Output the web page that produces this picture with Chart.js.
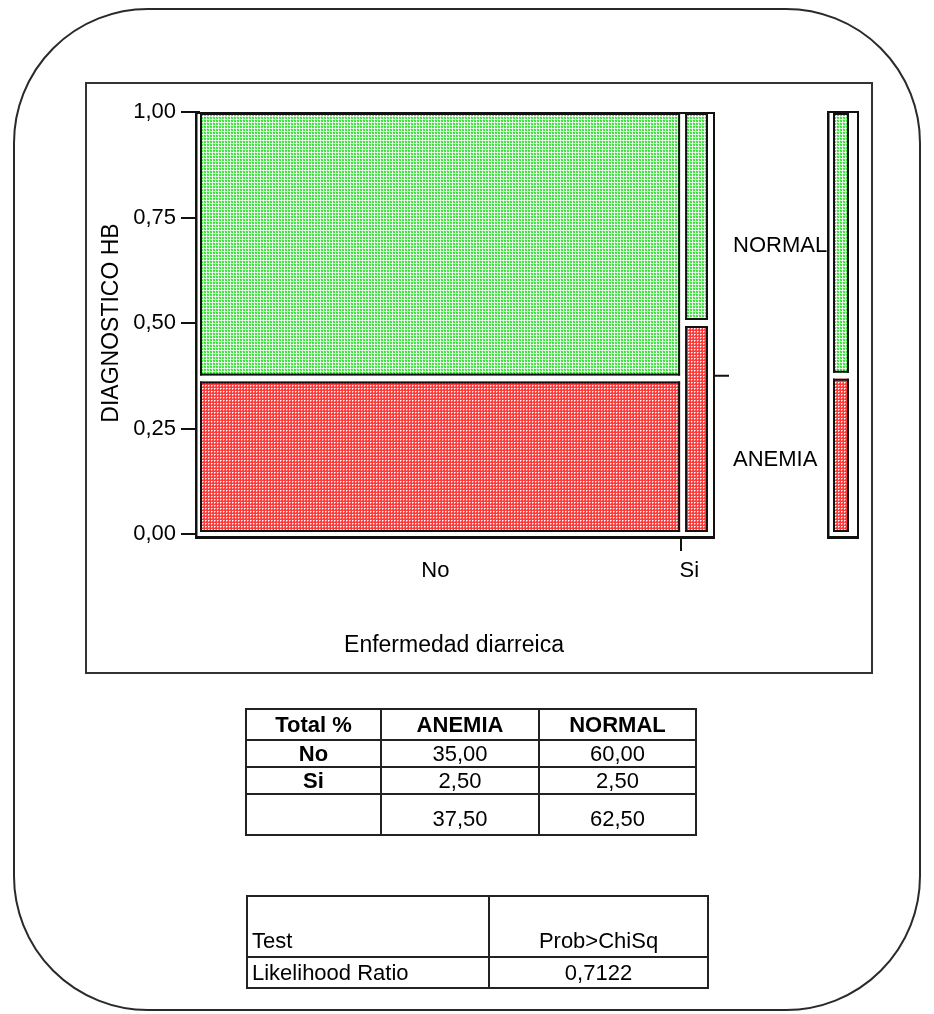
<!DOCTYPE html>
<html><head><meta charset="utf-8">
<script src="https://cdn.jsdelivr.net/npm/chart.js@4.4.0/dist/chart.umd.min.js"></script>
<style>
html,body{margin:0;padding:0;background:#fff;}
body{width:934px;height:1014px;position:relative;overflow:hidden;font-family:"Liberation Sans",Arial,sans-serif;color:#000;}
#frame{position:absolute;left:13px;top:8px;width:908px;height:1003px;box-sizing:border-box;border:2px solid #2a2a2a;border-radius:135px;}
#box{position:absolute;left:85px;top:82px;width:788px;height:592px;box-sizing:border-box;border:2px solid #333;}
#c{position:absolute;left:0;top:0;}
table{position:absolute;border-collapse:collapse;font-size:22px;table-layout:fixed;}
td{border:2px solid #222;padding:0;line-height:1;text-align:center;vertical-align:middle;}
#t1{left:245px;top:708px;width:450px;}
#t2{left:246px;top:895px;width:461px;}
.b{font-weight:bold;}
.l{text-align:left;padding-left:4px;}
.bot{vertical-align:bottom;padding-bottom:4px;}
</style></head>
<body>
<div id="frame"></div>
<div id="box"></div>
<canvas id="c" width="934" height="1014"></canvas>
<table id="t1"></table>
<table id="t2"></table>
<script>
// ---- data ----
const categories = ['No', 'Si'];
const levels = ['ANEMIA', 'NORMAL'];
const anemiaPct = [35.00, 2.50];
const normalPct = [60.00, 2.50];
const yTickValues = [0, 0.25, 0.5, 0.75, 1];
const xTitle = 'Enfermedad diarreica';
const yTitle = 'DIAGNOSTICO HB';
const tableCorner = 'Total %';
const testHeader = ['Test', 'Prob>ChiSq'];
const testRow = ['Likelihood Ratio', '0,7122'];

const fmt = v => v.toFixed(2).replace('.', ',');
const colTotals = categories.map((c, i) => anemiaPct[i] + normalPct[i]);
const grand = colTotals.reduce((a, b) => a + b, 0);
const anemiaTotal = anemiaPct.reduce((a, b) => a + b, 0);
const normalTotal = normalPct.reduce((a, b) => a + b, 0);
const colStarts = [];
{ let s = 0; colTotals.forEach(t => { colStarts.push(s / grand); s += t; }); }
const colCenters = colTotals.map((t, i) => colStarts[i] + t / grand / 2);

// ---- tables ----
(function () {
  const t1 = document.getElementById('t1');
  let h = '<colgroup><col style="width:135px"><col style="width:158px"><col style="width:157px"></colgroup>';
  h += '<tr style="height:31px"><td class="b">' + tableCorner + '</td>' + levels.map(l => '<td class="b">' + l + '</td>').join('') + '</tr>';
  categories.forEach((c, i) => {
    h += '<tr style="height:27px"><td class="b">' + c + '</td><td>' + fmt(anemiaPct[i]) + '</td><td>' + fmt(normalPct[i]) + '</td></tr>';
  });
  h += '<tr style="height:41px"><td></td><td class="bot">' + fmt(anemiaTotal) + '</td><td class="bot">' + fmt(normalTotal) + '</td></tr>';
  t1.innerHTML = h;
  const t2 = document.getElementById('t2');
  let g = '<colgroup><col style="width:242px"><col style="width:219px"></colgroup>';
  g += '<tr style="height:61px"><td class="l bot">' + testHeader[0] + '</td><td class="bot">' + testHeader[1] + '</td></tr>';
  g += '<tr style="height:31px"><td class="l">' + testRow[0] + '</td><td>' + testRow[1] + '</td></tr>';
  t2.innerHTML = g;
})();

// ---- patterns ----
function makePattern(base, cells) {
  const c = document.createElement('canvas'); c.width = c.height = 3;
  const g = c.getContext('2d');
  g.fillStyle = base; g.fillRect(0, 0, 3, 3);
  cells.forEach(([x, y, col]) => { g.fillStyle = col; g.fillRect(x, y, 1, 1); });
  return document.getElementById('c').getContext('2d').createPattern(c, 'repeat');
}
const greenPat = makePattern('#f2fdf2', [[0,0,'#30e030'],[1,0,'#5ae85a'],[0,1,'#5ae85a'],[1,1,'#30e030'],[2,0,'#c4f4c4'],[0,2,'#c4f4c4']]);
const redPat = makePattern('#ff3c3c', [[1,1,'#ffffff'],[2,1,'#ffa4a4'],[1,2,'#ffa4a4']]);

// ---- drawing helpers ----
function frameRect(ctx, l, t, r, b) {
  ctx.fillStyle = '#fff'; ctx.fillRect(l, t, r - l, b - t);
  ctx.fillStyle = '#111';
  ctx.fillRect(l, t, r - l, 2);
  ctx.fillRect(l, t, 2.5, b - t);
  ctx.fillRect(r - 2, t, 2, b - t);
  ctx.fillRect(l, b - 3, r - l, 3);
}
function tile(ctx, x0, y0, x1, y1, pat) {
  ctx.fillStyle = pat; ctx.fillRect(x0, y0, x1 - x0, y1 - y0);
  ctx.fillStyle = '#111';
  ctx.fillRect(x0, y0, x1 - x0, 2);
  ctx.fillRect(x0, y1 - 2, x1 - x0, 2);
  ctx.fillRect(x0, y0, 2, y1 - y0);
  ctx.fillRect(x1 - 2, y0, 2, y1 - y0);
}

const mosaicPlugin = {
  id: 'mosaic',
  afterDraw(chart) {
    const { ctx, chartArea: a, scales: { x, y } } = chart;
    ctx.save();
    const fl = a.left - 5, fr = a.right + 7, ft = y.getPixelForValue(1), fb = y.getPixelForValue(0) + 5;
    frameRect(ctx, fl, ft, fr, fb);
    const gap = 2.5;
    categories.forEach((c, i) => {
      const x0 = colStarts[i], x1 = colStarts[i] + colTotals[i] / grand;
      const px0 = x.getPixelForValue(x0) + (i === 0 ? 0 : gap);
      const px1 = x.getPixelForValue(x1) - (i === categories.length - 1 ? 0 : gap);
      const share = anemiaPct[i] / colTotals[i];
      const yb = y.getPixelForValue(0) - 2, ym = y.getPixelForValue(share), yt = y.getPixelForValue(1) + 1;
      tile(ctx, px0, ym + 3, px1, yb, redPat);
      tile(ctx, px0, yt, px1, ym - 3, greenPat);
    });
    // boundary tick on x axis
    ctx.fillStyle = '#111';
    for (let i = 1; i < categories.length; i++) {
      const px = Math.round(x.getPixelForValue(colStarts[i])) - 2;
      ctx.fillRect(px - 1, fb, 2, 12);
    }
    // marginal bar
    const share = anemiaTotal / grand;
    const mY = y.getPixelForValue(share);
    ctx.fillRect(fr, mY - 1, 14, 2);
    const ml = a.right + 119, mr = a.right + 151;
    frameRect(ctx, ml, ft - 1, mr, fb);
    const tx0 = a.right + 125, tx1 = a.right + 141;
    tile(ctx, tx0, mY + 3, tx1, y.getPixelForValue(0) - 2, redPat);
    tile(ctx, tx0, y.getPixelForValue(1) + 1, tx1, mY - 3, greenPat);
    // level labels
    ctx.fillStyle = '#000';
    ctx.font = '22px "Liberation Sans", Arial, sans-serif';
    ctx.textAlign = 'left'; ctx.textBaseline = 'middle';
    ctx.fillText(levels[1], a.right + 25, y.getPixelForValue((1 + share) / 2) + 2);
    ctx.fillText(levels[0], a.right + 25, y.getPixelForValue(share / 2) + 5);
    ctx.restore();
  }
};

const font = '"Liberation Sans", Arial, sans-serif';
new Chart(document.getElementById('c'), {
  type: 'scatter',
  data: { datasets: [] },
  plugins: [mosaicPlugin],
  options: {
    responsive: false,
    animation: false,
    events: [],
    layout: { padding: { left: 90, top: 112, right: 226, bottom: 340 } },
    plugins: { legend: { display: false }, tooltip: { enabled: false } },
    scales: {
      x: {
        type: 'linear', min: 0, max: 1, position: 'bottom',
        afterBuildTicks: s => { s.ticks = colCenters.map(v => ({ value: v })); },
        afterFit: s => { s.height = 140; },
        ticks: { autoSkip: false, maxRotation: 0, padding: 24, labelOffset: -6, color: '#000',
                 font: { family: font, size: 22 }, callback: (v, i) => categories[i] },
        grid: { display: false, drawTicks: false, drawOnChartArea: false },
        border: { display: false },
        title: { display: true, text: xTitle, color: '#000', font: { family: font, size: 23 }, padding: { top: 0, bottom: 15 } }
      },
      y: {
        type: 'linear', min: 0, max: 1,
        afterBuildTicks: s => { s.ticks = yTickValues.map(v => ({ value: v })); },
        afterFit: s => { s.width = 110; },
        ticks: { padding: 5, color: '#000', font: { family: font, size: 22 }, callback: v => fmt(v) },
        grid: { display: true, drawOnChartArea: false, drawTicks: true, tickLength: 19, tickWidth: 2, tickColor: '#111', color: '#111', lineWidth: 2 },
        border: { display: false },
        title: { display: true, text: yTitle, color: '#000', font: { family: font, size: 23 }, padding: { top: 8, bottom: 0 } }
      }
    }
  }
});
</script>
</body></html>
